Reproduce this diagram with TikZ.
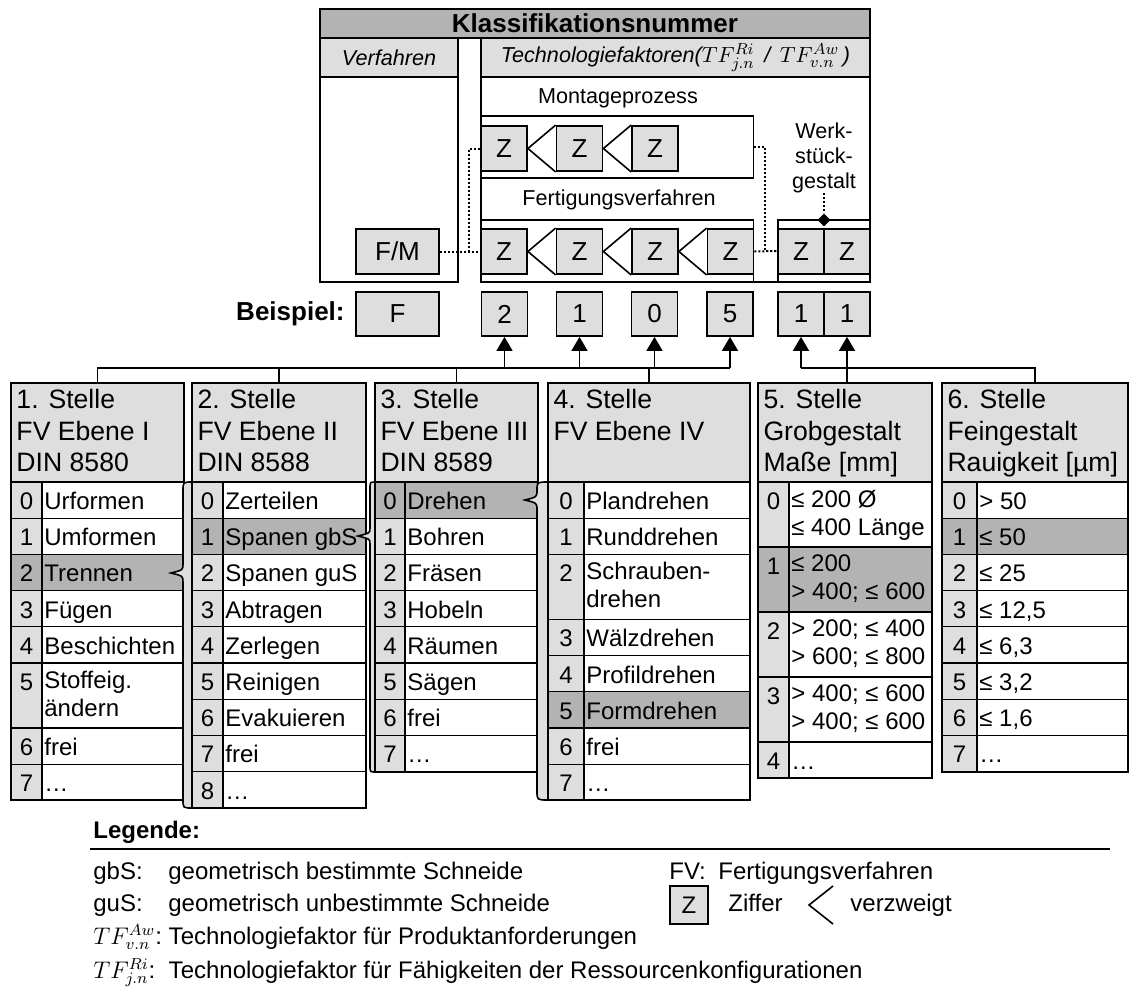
\documentclass[tikz,border=0pt]{standalone}
\usepackage{fontspec}
\setmainfont{Liberation Sans}
\usetikzlibrary{arrows.meta, shapes.geometric}
\definecolor{hellgrau}{HTML}{DEDEDE}
\definecolor{dunkelgrau}{HTML}{B3B3B3}
\tikzset{
    rahmen/.style={draw, line width=0.9pt, inner sep=0pt},
    kopf/.style={draw, line width=0.9pt, fill=dunkelgrau, inner sep=0pt, font=\bfseries\fontsize{13}{15}\selectfont},
    unterkopf/.style={draw, line width=0.9pt, fill=hellgrau, inner sep=0pt, font=\itshape\fontsize{10.8}{13}\selectfont},
    ziffer/.style={draw, line width=0.9pt, fill=hellgrau, inner sep=0pt, minimum width=23pt, minimum height=22.5pt, font=\fontsize{13}{15}\selectfont},
    beschr/.style={inner sep=0pt, align=center, font=\fontsize{10.8}{12.5}\selectfont},
    punktlinie/.style={line width=1pt, dash pattern=on 1pt off 1pt},
    zweig/.style={line width=0.8pt},
    bus/.style={line width=0.9pt},
    pfeil/.style={line width=0.9pt, -{Triangle[width=8pt,length=7pt]}},
    kopfzelle/.style={draw, line width=0.9pt, fill=hellgrau, inner sep=0pt, minimum height=49.5pt},
    kopftext/.style={anchor=north west, inner sep=0pt, align=left, font=\fontsize{13.3}{15.75}\selectfont, execute at begin node=\strut},
    zelle/.style={draw, line width=0.6pt},
    eintrag/.style={anchor=north west, inner sep=0pt, align=left, font=\fontsize{12}{14}\selectfont, execute at begin node=\strut},
    nummer/.style={anchor=north, inner sep=0pt, font=\fontsize{12}{14}\selectfont, execute at begin node=\strut},
    klammer/.style={draw, line width=0.8pt, fill=hellgrau},
    legende/.style={anchor=base west, inner sep=0pt, font=\fontsize{12}{14}\selectfont}
}
\begin{document}
\begin{tikzpicture}[x=0.5pt, y=-0.5pt]
    \useasboundingbox (0,0) rectangle (1130,997);

    % Klassifikationsnummer
    \node[kopf, minimum width=275pt, minimum height=14.5pt] (titel) at (595,23.5) {Klassifikationsnummer};
    \node[unterkopf, minimum width=69pt, minimum height=19.5pt] (verf) at (389,57.5) {Verfahren};
    \node[rahmen, minimum width=69pt, minimum height=102.5pt] (verfrumpf) at (389,179.5) {};
    \node[unterkopf, minimum width=194.5pt, minimum height=19.5pt] (tech) at (675.5,57.5) {Technologiefaktoren($TF^{Ri}_{j.n}$\, / \,$TF^{Aw}_{v.n}\,$)};
    \node[rahmen, minimum width=194.5pt, minimum height=102.5pt] (techrumpf) at (675.5,179.5) {};

    \node[beschr] (mlabel) at (618,98) {Montageprozess};
    \node[rahmen, minimum width=136.25pt, minimum height=31pt] (montage) at (617.25,147) {};
    \node[beschr] (flabel) at (619,200) {Fertigungsverfahren};
    \node[rahmen, minimum width=136.25pt, minimum height=31pt] (fertigung) at (617.25,251) {};
    \node[rahmen, minimum width=46pt, minimum height=31pt] (werkst) at (824,251) {};
    \node[beschr] (wlabel) at (824,158) {Werk-\\stück-\\gestalt};

    \node[ziffer] (m1) at (504,148.5) {Z};
    \node[ziffer] (m2) at (579.5,148.5) {Z};
    \node[ziffer] (m3) at (655,148.5) {Z};
    \node[ziffer] (f1) at (504,251.5) {Z};
    \node[ziffer] (f2) at (579.5,251.5) {Z};
    \node[ziffer] (f3) at (655,251.5) {Z};
    \node[ziffer] (f4) at (730.5,251.5) {Z};
    \node[ziffer] (w1) at (801,251.5) {Z};
    \node[ziffer] (w2) at (847,251.5) {Z};
    \node[ziffer, minimum width=41.5pt] (fm) at (397.5,251.5) {F/M};

    \foreach \a/\b in {m1/m2, m2/m3, f1/f2, f2/f3, f3/f4}
        \draw[zweig] (\b.north west) -- (\a.east) -- (\b.south west);

    \node[diamond, fill=black, inner sep=0pt, minimum size=6.5pt] (raute) at (824,220) {};
    \draw[punktlinie] (wlabel.south) -- (raute.north);

    \coordinate (lknick) at (469,251.5);
    \coordinate (rknick) at (765,147);
    \draw[punktlinie] (fm.east) -- (f1.west);
    \draw[punktlinie] (lknick) |- (m1.west);
    \draw[punktlinie] (f4.east) -- (werkst.west);
    \draw[punktlinie] (montage.east) -- (rknick) |- (werkst.west);

    % Beispiel
    \node[anchor=east, inner sep=0pt, font=\bfseries\fontsize{13}{15}\selectfont] (beisp) at (345,314) {Beispiel:};
    \node[ziffer, minimum width=41.5pt, minimum height=22pt] (bf) at (397.5,314) {F};
    \node[ziffer, minimum height=22pt] (b1) at (504.5,314) {2};
    \node[ziffer, minimum height=22pt] (b2) at (579.5,314) {1};
    \node[ziffer, minimum height=22pt] (b3) at (654.5,314) {0};
    \node[ziffer, minimum height=22pt] (b4) at (730,314) {5};
    \node[ziffer, minimum height=22pt] (b5) at (801,314) {1};
    \node[ziffer, minimum height=22pt] (b6) at (847,314) {1};

    % 1. Stelle
    \node[kopfzelle, minimum width=86.5pt] (h1) at (97.5,432.5) {};
    \node[kopftext] (k1) at ([xshift=3pt,yshift=-3.5pt]h1.north west) {1. Stelle\\FV Ebene I\\DIN 8580};
    \foreach \nr/\txt/\hh [evaluate=\hh as \yb using \ya+36.2+28.8*(\hh-1), remember=\yb as \ya (initially 482)] in
        {0/Urformen/1, 1/Umformen/1, 2/Trennen/1, 3/Fügen/1, 4/Beschichten/1, 5/{Stoffeig.\\ändern}/2, 6/frei/1, 7/…/1} {
        \ifnum\nr=2 \def\fa{dunkelgrau}\def\fb{dunkelgrau}\else\def\fa{hellgrau}\def\fb{white}\fi
        \filldraw[zelle, fill=\fa] (11,\ya) rectangle (42,\yb);
        \filldraw[zelle, fill=\fb] (42,\ya) rectangle (184,\yb);
        \node[nummer] (n1-\nr) at (26.5,\ya+7.5) {\nr};
        \node[eintrag] (e1-\nr) at (44,\ya+7.5) {\txt};
    }
    \draw[rahmen] (11,383) rectangle (184,800);

    % 2. Stelle
    \node[kopfzelle, minimum width=87pt] (h2) at (279,432.5) {};
    \node[kopftext] (k2) at ([xshift=3pt,yshift=-3.5pt]h2.north west) {2. Stelle\\FV Ebene II\\DIN 8588};
    \foreach \nr/\txt/\hh [evaluate=\hh as \yb using \ya+36.2+28.8*(\hh-1), remember=\yb as \ya (initially 482)] in
        {0/Zerteilen/1, 1/Spanen gbS/1, 2/Spanen guS/1, 3/Abtragen/1, 4/Zerlegen/1, 5/Reinigen/1, 6/Evakuieren/1, 7/frei/1, 8/…/1} {
        \ifnum\nr=1 \def\fa{dunkelgrau}\def\fb{dunkelgrau}\else\def\fa{hellgrau}\def\fb{white}\fi
        \filldraw[zelle, fill=\fa] (192,\ya) rectangle (223,\yb);
        \filldraw[zelle, fill=\fb] (223,\ya) rectangle (366,\yb);
        \node[nummer] (n2-\nr) at (207.5,\ya+7.5) {\nr};
        \node[eintrag] (e2-\nr) at (225,\ya+7.5) {\txt};
    }
    \draw[rahmen] (192,383) rectangle (366,808);

    % 3. Stelle
    \node[kopfzelle, minimum width=81.5pt] (h3) at (456.5,432.5) {};
    \node[kopftext] (k3) at ([xshift=3pt,yshift=-3.5pt]h3.north west) {3. Stelle\\FV Ebene III\\DIN 8589};
    \foreach \nr/\txt/\hh [evaluate=\hh as \yb using \ya+36.2+28.8*(\hh-1), remember=\yb as \ya (initially 482)] in
        {0/Drehen/1, 1/Bohren/1, 2/Fräsen/1, 3/Hobeln/1, 4/Räumen/1, 5/Sägen/1, 6/frei/1, 7/…/1} {
        \ifnum\nr=0 \def\fa{dunkelgrau}\def\fb{dunkelgrau}\else\def\fa{hellgrau}\def\fb{white}\fi
        \filldraw[zelle, fill=\fa] (375,\ya) rectangle (405,\yb);
        \filldraw[zelle, fill=\fb] (405,\ya) rectangle (538,\yb);
        \node[nummer] (n3-\nr) at (390,\ya+7.5) {\nr};
        \node[eintrag] (e3-\nr) at (407,\ya+7.5) {\txt};
    }
    \draw[rahmen] (375,383) rectangle (538,772);

    % 4. Stelle
    \node[kopfzelle, minimum width=101pt] (h4) at (649,432.5) {};
    \node[kopftext] (k4) at ([xshift=3pt,yshift=-3.5pt]h4.north west) {4. Stelle\\FV Ebene IV};
    \foreach \nr/\txt/\hh [evaluate=\hh as \yb using \ya+36.2+28.8*(\hh-1), remember=\yb as \ya (initially 482)] in
        {0/Plandrehen/1, 1/Runddrehen/1, 2/{Schrauben-\\drehen}/2, 3/Wälzdrehen/1, 4/Profildrehen/1, 5/Formdrehen/1, 6/frei/1, 7/…/1} {
        \ifnum\nr=5 \def\fa{dunkelgrau}\def\fb{dunkelgrau}\else\def\fa{hellgrau}\def\fb{white}\fi
        \filldraw[zelle, fill=\fa] (548,\ya) rectangle (584,\yb);
        \filldraw[zelle, fill=\fb] (584,\ya) rectangle (750,\yb);
        \node[nummer] (n4-\nr) at (566,\ya+7.5) {\nr};
        \node[eintrag] (e4-\nr) at (586,\ya+7.5) {\txt};
    }
    \draw[rahmen] (548,383) rectangle (750,800);

    % 5. Stelle
    \node[kopfzelle, minimum width=87pt] (h5) at (845,432.5) {};
    \node[kopftext] (k5) at ([xshift=3pt,yshift=-3.5pt]h5.north west) {5. Stelle\\Grobgestalt\\Maße [mm]};
    \foreach \nr/\txt/\hh [evaluate=\hh as \yb using \ya+36.2+28.8*(\hh-1), remember=\yb as \ya (initially 482)] in
        {0/{≤ 200 Ø\\≤ 400 Länge}/2, 1/{≤ 200\\> 400; ≤ 600}/2, 2/{> 200; ≤ 400\\> 600; ≤ 800}/2, 3/{> 400; ≤ 600\\> 400; ≤ 600}/2, 4/…/1} {
        \ifnum\nr=1 \def\fa{dunkelgrau}\def\fb{dunkelgrau}\else\def\fa{hellgrau}\def\fb{white}\fi
        \filldraw[zelle, fill=\fa] (758,\ya) rectangle (789,\yb);
        \filldraw[zelle, fill=\fb] (789,\ya) rectangle (932,\yb);
        \node[nummer] (n5-\nr) at (773.5,\ya+7.5) {\nr};
        \node[eintrag] (e5-\nr) at (791,\ya+7.5) {\txt};
    }
    \draw[rahmen] (758,383) rectangle (932,778);

    % 6. Stelle
    \node[kopfzelle, minimum width=93pt] (h6) at (1035,432.5) {};
    \node[kopftext] (k6) at ([xshift=3pt,yshift=-3.5pt]h6.north west) {6. Stelle\\Feingestalt\\Rauigkeit [µm]};
    \foreach \nr/\txt/\hh [evaluate=\hh as \yb using \ya+36.2+28.8*(\hh-1), remember=\yb as \ya (initially 482)] in
        {0/{> 50}/1, 1/{≤ 50}/1, 2/{≤ 25}/1, 3/{≤ 12,5}/1, 4/{≤ 6,3}/1, 5/{≤ 3,2}/1, 6/{≤ 1,6}/1, 7/…/1} {
        \ifnum\nr=1 \def\fa{dunkelgrau}\def\fb{dunkelgrau}\else\def\fa{hellgrau}\def\fb{white}\fi
        \filldraw[zelle, fill=\fa] (942,\ya) rectangle (977,\yb);
        \filldraw[zelle, fill=\fb] (977,\ya) rectangle (1128,\yb);
        \node[nummer] (n6-\nr) at (959.5,\ya+7.5) {\nr};
        \node[eintrag] (e6-\nr) at (979,\ya+7.5) {\txt};
    }
    \draw[rahmen] (942,383) rectangle (1128,772);

    % Klammern
    \draw[klammer] (192,482) .. controls (183,482) .. (183,491) -- (183,564) .. controls (183,570) .. (171,573) .. controls (183,576) .. (183,582) -- (183,799) .. controls (183,808) .. (192,808) -- cycle;
    \draw[klammer] (375,482) .. controls (370,482) .. (370,489) -- (370,528) .. controls (370,533) .. (358,536) .. controls (370,539) .. (370,544) -- (370,765) .. controls (370,772) .. (375,772) -- cycle;
    \draw[klammer] (548,482) .. controls (537,482) .. (537,490) .. controls (537,497) .. (525,500) .. controls (537,503) .. (537,510) -- (537,791) .. controls (537,800) .. (548,800) -- cycle;

    % Zuordnung
    \coordinate (busa) at (97,368);
    \draw[bus] (h1.north) -- (h1.north |- busa) -- (b4.south |- busa);
    \draw[bus] (h2.north) -- (h2.north |- busa);
    \draw[bus] (h3.north) -- (h3.north |- busa);
    \draw[bus] (h4.north) -- (h4.north |- busa);
    \foreach \b in {b1,b2,b3,b4}
        \draw[pfeil] (\b.south |- busa) -- (\b.south);
    \draw[bus] (h6.north) -- (h6.north |- busa) -- (b5.south |- busa);
    \draw[pfeil] (b5.south |- busa) -- (b5.south);
    \draw[pfeil] (b6.south |- h5.north) -- (b6.south);

    % Legende
    \node[legende, font=\bfseries\fontsize{12}{14}\selectfont] (leg) at (93,838) {Legende:};
    \coordinate (linea) at (90,849);
    \coordinate (lineb) at (1110,849);
    \draw[line width=1pt] (linea) -- (lineb);
    \node[legende] (l1a) at (93,879) {gbS:};
    \node[legende] (l1b) at (168,879) {geometrisch bestimmte Schneide};
    \node[legende] (l2a) at (93,911) {guS:};
    \node[legende] (l2b) at (168,911) {geometrisch unbestimmte Schneide};
    \node[legende] (l3a) at (93,944) {$TF^{Aw}_{v.n}$:};
    \node[legende] (l3b) at ([xshift=3pt]l3a.base east) {Technologiefaktor für Produktanforderungen};
    \node[legende] (l4a) at (93,978) {$TF^{Ri}_{j.n}$:};
    \node[legende] (l4b) at (l3b.base west |- l4a.base) {Technologiefaktor für Fähigkeiten der Ressourcenkonfigurationen};
    \node[legende] (l5a) at (669,879) {FV:};
    \node[legende] (l5b) at (718,879) {Fertigungsverfahren};
    \node[ziffer, minimum width=19pt, minimum height=19pt, font=\fontsize{12}{14}\selectfont] (lz) at (689,905) {Z};
    \node[legende] (l6a) at (728,911) {Ziffer};
    \draw[zweig] (833,886) -- (809,905) -- (833,924);
    \node[legende] (l6b) at (850,911) {verzweigt};
\end{tikzpicture}
\end{document}
